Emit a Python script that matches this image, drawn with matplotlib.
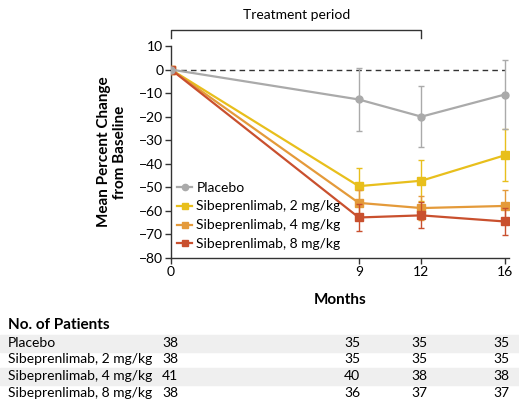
import matplotlib
matplotlib.use("Agg")
from matplotlib import pyplot as plt
from matplotlib.patches import Rectangle
from matplotlib.lines import Line2D
import numpy as np

plt.rcParams['font.family'] = ['Lato', 'DejaVu Sans']

# datos
meses = [0, 9, 12, 16]
grupos = ['Placebo', 'Sibeprenlimab, 2 mg/kg', 'Sibeprenlimab, 4 mg/kg', 'Sibeprenlimab, 8 mg/kg']
placebo = [0, -12.7, -20.0, -10.6]
placebo_err = [0, 13.5, 13.0, 14.8]
dosis2 = [0, -49.5, -47.2, -36.4]
dosis2_err = [0, 7.5, 8.6, 11.0]
dosis4 = [0, -56.6, -58.8, -57.9]
dosis4_err = [0, 5.5, 5.0, 6.6]
dosis8 = [0, -62.8, -61.9, -64.5]
dosis8_err = [0, 5.8, 5.5, 5.6]
pacientes = [
    [38, 35, 35, 35],
    [38, 35, 35, 35],
    [41, 40, 38, 38],
    [38, 36, 37, 37],
]
ticks_y = [10, 0, -10, -20, -30, -40, -50, -60, -70, -80]

colores = ['#aaaaaa', '#e8bf1c', '#e49a3a', '#c9502e']
marcadores = ['o', 's', 's', 's']
FS = 10

fig = plt.figure(figsize=(5.19, 4.01), dpi=100)
ax = fig.add_axes([171/519, (401-258)/401, 338/519, 212/401])

ax.plot([0, 16], [0, 0], ls=(0, (4, 3)), color='#333333', lw=1.0, zorder=1)

series = [(placebo, placebo_err), (dosis2, dosis2_err), (dosis4, dosis4_err), (dosis8, dosis8_err)]
orden_z = [6, 3, 4, 5]
manejadores = []
for (y, e), c, m, lab, z in zip(series, colores, marcadores, grupos, orden_z):
    tam = 5 if m == 'o' else 5.5
    ax.errorbar(meses, y, yerr=e, color=c, lw=1.6, marker=m, ms=tam,
                elinewidth=1.0, capsize=2.5, capthick=1.0, zorder=z)
    manejadores.append(Line2D([], [], color=c, lw=1.6, marker=m, ms=tam - 0.5, label=lab))

ax.set_xlim(0, 16.2)
ax.set_ylim(-80, 10)
ax.set_xticks(meses)
ax.set_yticks(ticks_y)
ax.set_yticklabels([str(t).replace('-', '\u2212') for t in ticks_y])
ax.spines['top'].set_visible(False)
ax.spines['right'].set_visible(False)
for s in ['left', 'bottom']:
    ax.spines[s].set_color('#333333')
    ax.spines[s].set_linewidth(1.0)
ax.tick_params(axis='both', labelsize=FS, length=4, width=1.0, color='#333333', pad=1.5)
ax.set_xlabel('Months', fontsize=11, fontweight='bold', labelpad=11)
ax.set_ylabel('Mean Percent Change\nfrom Baseline', fontsize=11, fontweight='bold', labelpad=9,
              linespacing=1.2)

ax.legend(handles=manejadores, loc='lower left', bbox_to_anchor=(-0.005, 0.0), frameon=False,
          fontsize=FS, handlelength=1.1, handletextpad=0.3, labelspacing=0.5, borderaxespad=0.15)

# periodo de tratamiento
ax.plot([0, 0, 12, 12], [13.3, 17.0, 17.0, 13.3], color='#333333', lw=1.0, clip_on=False)
ax.text(6, 20.5, 'Treatment period', ha='center', va='bottom', fontsize=FS)

# tabla de pacientes
fig.text(8/519, 1 - 325/401, 'No. of Patients', fontsize=11, fontweight='bold', va='center')
filas_y = [343, 359, 376, 393]
for i, (g, fy) in enumerate(zip(grupos, filas_y)):
    if i % 2 == 0:
        fig.patches.append(Rectangle((0, 1 - (fy + 8.5)/401), 1, 16.5/401,
                                     transform=fig.transFigure, color='#efefef', zorder=0))
    fig.text(8/519, 1 - fy/401, g, fontsize=FS, va='center')
    for mx, n in zip([170, 352, 419, 501], pacientes[i]):
        fig.text(mx/519, 1 - fy/401, str(n), fontsize=FS, va='center', ha='center')

fig.savefig('out.png', dpi=100)
